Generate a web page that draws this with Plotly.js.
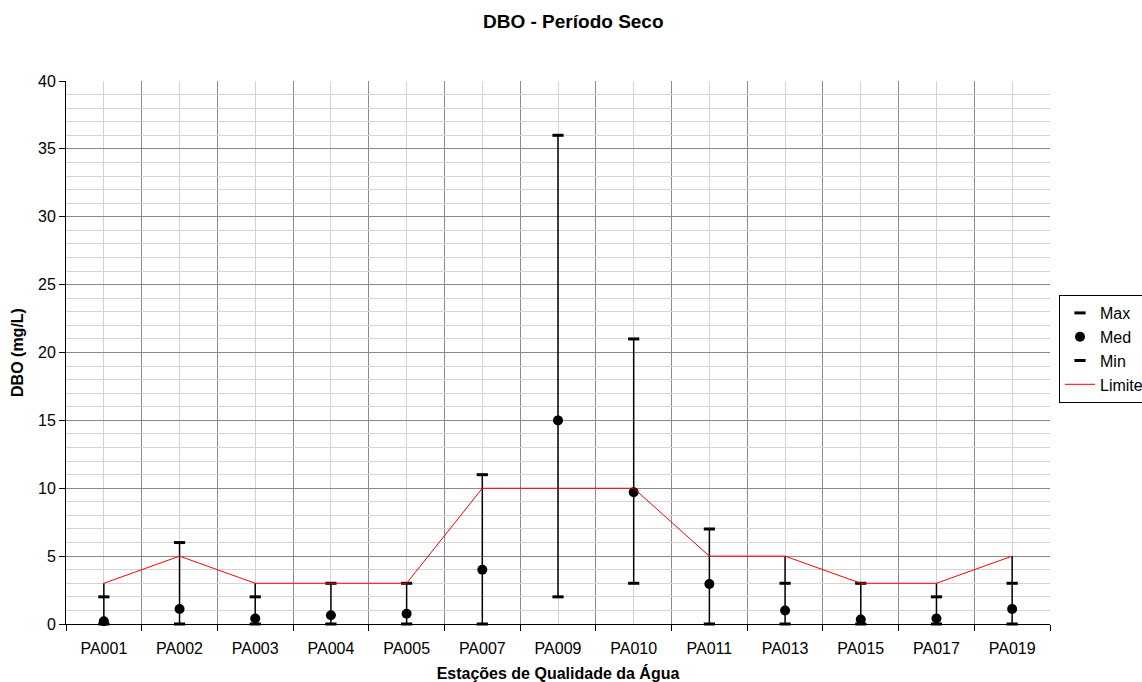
<!DOCTYPE html>
<html>
<head>
<meta charset="utf-8">
<script src="https://cdn.plot.ly/plotly-3.0.1.min.js"></script>
<style>html,body{margin:0;padding:0;background:#fff;}#chart{width:1142px;height:682px;}</style>
</head>
<body>
<div id="chart"></div>
<script>
const estacoes = ["PA001","PA002","PA003","PA004","PA005","PA007","PA009","PA010","PA011","PA013","PA015","PA017","PA019"];
const maxVals = [2, 6, 2, 3, 3, 11, 36, 21, 7, 3, 3, 2, 3];
const medVals = [0.2, 1.1, 0.4, 0.65, 0.75, 4.0, 15.0, 9.7, 2.95, 1.0, 0.33, 0.4, 1.1];
const minVals = [0, 0, 0, 0, 0, 0, 2, 3, 0, 0, 0, 0, 0];
const limite  = [3, 5, 3, 3, 3, 10, 10, 10, 5, 5, 3, 3, 5];

const idx = estacoes.map((_, i) => i);

// high-low lines spanning all series at each station
const hlX = [], hlY = [];
idx.forEach(i => {
  hlX.push(i, i, null);
  hlY.push(Math.min(minVals[i], medVals[i], limite[i]), Math.max(maxVals[i], limite[i]), null);
});

const FONT = "Liberation Sans, Arial, sans-serif";

const traces = [
  {x: hlX, y: hlY, mode: "lines", line: {color: "#000", width: 1.5}, showlegend: false, hoverinfo: "skip", cliponaxis: false},
  {x: idx, y: maxVals, name: "Max", mode: "markers", cliponaxis: false,
   marker: {symbol: "line-ew", size: 8, color: "#000", line: {color: "#000", width: 3}}, legendgroup: "a"},
  {x: idx, y: medVals, name: "Med", mode: "markers", cliponaxis: false,
   marker: {symbol: "circle", size: 10, color: "#000"}, legendgroup: "b"},
  {x: idx, y: minVals, name: "Min", mode: "markers", cliponaxis: false,
   marker: {symbol: "line-ew", size: 8, color: "#000", line: {color: "#000", width: 3}}, legendgroup: "c"},
  {x: idx, y: limite, name: "Limite", mode: "lines", cliponaxis: false,
   line: {color: "#ff0000", width: 1}, legendgroup: "d"}
];

const layout = {
  width: 1142, height: 682,
  paper_bgcolor: "#fff", plot_bgcolor: "#fff",
  font: {family: FONT, size: 16, color: "#000"},
  margin: {l: 66, r: 92, t: 81, b: 58, autoexpand: false},
  title: {text: "<b>DBO - Período Seco</b>", font: {family: FONT, size: 19, color: "#000"},
          xref: "container", x: 0.502, yref: "container", y: 1 - 21/682, yanchor: "middle"},
  xaxis: {
    range: [-0.5, 12.5], tickmode: "array", tickvals: idx, ticktext: estacoes,
    showgrid: true, gridcolor: "#d4d4d4", gridwidth: 1,
    ticks: "", showline: true, linecolor: "#000", linewidth: 1, zeroline: false,
    ticklabelstandoff: 10,
    minor: {tickmode: "linear", tick0: 0.5, dtick: 1, showgrid: true, gridcolor: "#8a8a8a", gridwidth: 1,
            ticks: "outside", ticklen: 6, tickcolor: "#000", tickwidth: 1},
    title: {text: "<b>Estações de Qualidade da Água</b>", font: {family: FONT, size: 16}, standoff: 12},
    tickfont: {family: FONT, size: 16}
  },
  yaxis: {
    range: [0, 40], tickmode: "linear", tick0: 0, dtick: 5,
    showgrid: true, gridcolor: "#8a8a8a", gridwidth: 1,
    ticks: "outside", ticklen: 6, tickcolor: "#000", tickwidth: 1,
    showline: true, linecolor: "#000", linewidth: 1, zeroline: false,
    minor: {dtick: 1, showgrid: true, gridcolor: "#d4d4d4", gridwidth: 1, ticks: ""},
    title: {text: "<b>DBO (mg/L)</b>", font: {family: FONT, size: 16}, standoff: 10},
    tickfont: {family: FONT, size: 16}
  },
  legend: {
    x: (1059 - 66) / 984, xanchor: "left", y: (624 - 295) / 543, yanchor: "top",
    bordercolor: "#000", borderwidth: 1, bgcolor: "#fff",
    font: {family: FONT, size: 16}, tracegroupgap: 3, traceorder: "normal"
  },
  showlegend: true
};

Plotly.newPlot("chart", traces, layout, {displayModeBar: false, staticPlot: true});
</script>
</body>
</html>
